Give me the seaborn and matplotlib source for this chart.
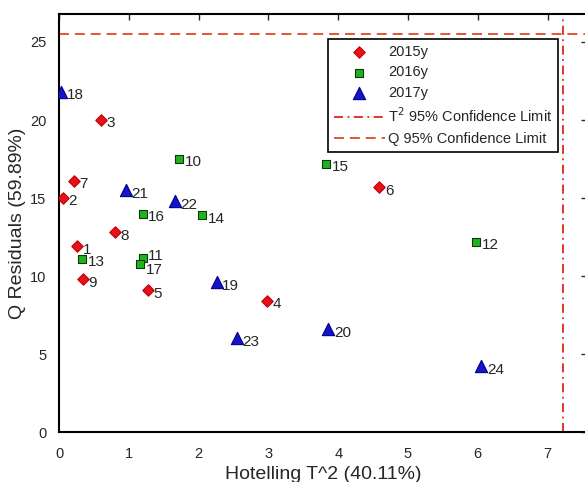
import pandas as pd
import numpy as np
import seaborn as sns
import matplotlib.pyplot as plt

# valores
etiquetas = [1, 2, 3, 4, 5, 6, 7, 8, 9,
             10, 11, 12, 13, 14, 15, 16, 17,
             18, 19, 20, 21, 22, 23, 24]
anios = ['2015y'] * 9 + ['2016y'] * 8 + ['2017y'] * 7
hotelling_t2 = [0.26, 0.06, 0.60, 2.98, 1.27, 4.59, 0.21, 0.80, 0.34,
                1.72, 1.20, 5.98, 0.33, 2.05, 3.83, 1.20, 1.16,
                0.03, 2.26, 3.86, 0.96, 1.66, 2.55, 6.05]
q_residuos = [11.9, 15.0, 20.0, 8.4, 9.1, 15.7, 16.1, 12.8, 9.8,
              17.5, 11.15, 12.2, 11.1, 13.9, 17.2, 14.0, 10.8,
              21.8, 9.6, 6.6, 15.5, 14.8, 6.0, 4.2]
limite_t2 = 7.22
limite_q = 25.5

df = pd.DataFrame({'t2': hotelling_t2, 'q': q_residuos, 'anio': anios, 'num': etiquetas})

sns.set_style('white')
plt.rcParams['font.family'] = ['Liberation Sans', 'DejaVu Sans']
plt.rcParams['font.size'] = 10.5

estilos = {
    '2015y': dict(marker='D', color='#e8101a', edgecolor='#c00000', s=34),
    '2016y': dict(marker='s', color='#1fb41f', edgecolor='#0a3a0a', s=30),
    '2017y': dict(marker='^', color='#1414c8', edgecolor='#00008c', s=78),
}
# ajustes de etiquetas que se pisan
desplazamientos = {11: (4, 1.5), 17: (4, -5)}

fig = plt.figure(figsize=(5.85, 4.82), dpi=100)
ax = fig.add_axes([59/585, 50/482, 528/585, 418/482])

for anio, est in estilos.items():
    sub = df[df['anio'] == anio]
    sns.scatterplot(data=sub, x='t2', y='q', ax=ax, label=anio, linewidth=0.8, zorder=3, **est)

for _, fila in df.iterrows():
    off = desplazamientos.get(fila['num'], (4, -2.5))
    ax.annotate(str(fila['num']), (fila['t2'], fila['q']), xytext=off,
                textcoords='offset points', ha='left', va='center', fontsize=11)

ax.axvline(limite_t2, color='#e0241a', lw=1.3, ls=(0, (5, 2.5, 1, 2.5)),
           label='T$^2$ 95% Confidence Limit')
ax.axhline(limite_q, color='#e8451f', lw=1.3, ls=(0, (5.5, 3.3)),
           label='Q 95% Confidence Limit')

ax.set_xlim(0, 528/69.8)
ax.set_ylim(0, 418/15.6)
ax.set_xticks(range(0, 8))
ax.set_yticks(range(0, 26, 5))
ax.set_xlabel('Hotelling T^2 (40.11%)', fontsize=14, labelpad=4)
ax.set_ylabel('Q Residuals (59.89%)', fontsize=14, labelpad=3)
ax.tick_params(direction='in', top=True, right=True, length=4, width=1)
ax.tick_params(axis='x', pad=10.5)
ax.tick_params(axis='y', pad=9)
for sp in ax.spines.values():
    sp.set_linewidth(1.5)
    sp.set_color('black')

leg = ax.legend(loc='upper right', bbox_to_anchor=(0.945, 0.94), borderaxespad=0,
                fancybox=False, edgecolor='black', framealpha=1, handlelength=3.5,
                handletextpad=0.2, labelspacing=0.45, fontsize=10.5)
leg.get_frame().set_linewidth(1.2)

fig.savefig('out.png', dpi=100)
